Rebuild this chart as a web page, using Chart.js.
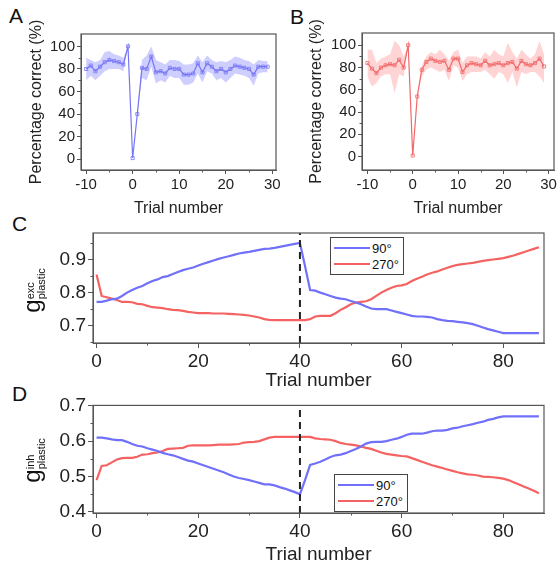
<!DOCTYPE html>
<html>
<head>
<meta charset="utf-8">
<script src="https://cdn.jsdelivr.net/npm/chart.js@4"></script>
<style>
  body { margin: 0; background: #fff; font-family: Arial, "Liberation Sans", sans-serif; }
  #fig { position: relative; width: 560px; height: 572px; overflow: hidden; }
  .panel { position: absolute; }
  .letter { position: absolute; font-size: 21px; color: #111; }
  .glabel { position: absolute; transform: rotate(-90deg); transform-origin: center; white-space: nowrap; color: #111; }
  .glabel .g { font-size: 24px; }
  .glabel .sx { display: inline-block; vertical-align: middle; line-height: 11px; font-size: 11px; text-align: left; }
  .legend { position: absolute; border: 1px solid #444; background: #fff; font-size: 13px; color: #111; padding: 2px 4px 2px 3px; }
  .legend .row { display: flex; align-items: center; height: 16px; }
  .legend .sw { display: inline-block; width: 36px; height: 2px; margin-right: 2px; }
</style>
</head>
<body>
<div id="fig">
  <div class="letter" style="left:9px;top:4px;">A</div>
  <div class="letter" style="left:290px;top:5px;">B</div>
  <div class="letter" style="left:12px;top:212px;">C</div>
  <div class="letter" style="left:12px;top:382px;">D</div>
  <div class="panel" style="left:0;top:0;"><canvas id="chartA" width="285" height="222"></canvas></div>
  <div class="panel" style="left:280px;top:0;"><canvas id="chartB" width="280" height="222"></canvas></div>
  <div class="panel" style="left:0;top:200px;"><canvas id="chartC" width="560" height="192"></canvas></div>
  <div class="panel" style="left:0;top:392px;"><canvas id="chartD" width="560" height="180"></canvas></div>
  <div class="glabel" id="labelC" style="left:-8px;top:276px;width:80px;text-align:center;"><span class="g">g</span><span class="sx">exc<br>plastic</span></div>
  <div class="glabel" id="labelD" style="left:-8px;top:446px;width:80px;text-align:center;"><span class="g">g</span><span class="sx">inh<br>plastic</span></div>
  <div class="legend" id="legendC" style="left:330px;top:237px;"></div>
  <div class="legend" id="legendD" style="left:334px;top:474px;"></div>
</div>
<script>
// panels A/B: trials around the switch
const trialsAB = [-10,-9,-8,-7,-6,-5,-4,-3,-2,-1,0,1,2,3,4,5,6,7,8,9,10,11,12,13,14,15,16,17,18,19,20,21,22,23,24,25,26,27,28,29];
const pctA      = [80,83,78,82,86,88,87,86,84,100,1,40,81,80,91,77,78,76,81,80,80,75,75,76,85,77,85,82,78,80,77,80,83,82,81,80,75,82,82,82];
const pctAUpper = [90,88,86,88,95,96,93,92,90,100,1,40,88,92,100,88,86,84,88,88,87,84,84,85,92,86,92,88,86,87,86,88,91,90,88,87,84,88,87,87];
const pctALower = [70,74,70,74,78,80,80,80,78,100,1,40,72,70,82,67,70,68,74,72,72,66,66,68,76,68,78,76,70,72,68,72,76,75,74,72,65,76,77,77];
const pctB      = [84,79,75,80,82,83,82,87,80,100,1,54,78,85,88,86,85,86,78,88,88,76,82,84,83,82,86,82,83,84,82,84,85,79,86,83,82,84,88,81];
const pctBUpper = [96,96,84,88,90,92,104,100,90,100,1,55,82,90,94,92,96,92,86,94,96,84,90,90,90,88,94,90,96,92,90,102,94,88,96,92,88,92,104,92];
const pctBLower = [72,63,66,72,74,74,57,74,72,100,1,53,72,78,80,78,76,78,68,82,80,68,74,76,76,76,78,74,70,76,74,66,76,62,76,74,76,76,72,66];

// panels C/D: plastic conductances over trials
const trialsCD = [0,1,2,3,4,5,6,7,8,9,10,11,12,13,14,15,16,17,18,19,20,21,22,23,24,25,26,27,28,29,30,31,32,33,34,35,36,37,38,39,40,41,42,43,44,45,46,47,48,49,50,51,52,53,54,55,56,57,58,59,60,61,62,63,64,65,66,67,68,69,70,71,72,73,74,75,76,77,78,79,80,81,82,83,84,85,86,87];
const excBlue = [0.772,0.772,0.776,0.780,0.782,0.790,0.800,0.808,0.815,0.820,0.828,0.835,0.840,0.847,0.850,0.856,0.862,0.868,0.872,0.876,
  0.882,0.887,0.892,0.897,0.902,0.906,0.910,0.914,0.918,0.921,0.923,0.926,0.929,0.932,0.933,0.935,0.938,0.941,0.944,0.947,
  0.950,0.880,0.808,0.806,0.800,0.795,0.790,0.785,0.782,0.780,0.775,0.770,0.765,0.758,0.752,0.750,0.750,0.750,0.746,0.742,
  0.738,0.734,0.730,0.728,0.728,0.727,0.725,0.720,0.717,0.715,0.714,0.712,0.710,0.708,0.705,0.700,0.695,0.690,0.686,0.682,
  0.678,0.678,0.678,0.678,0.678,0.678,0.678,0.678];
const excRed = [0.855,0.790,0.786,0.782,0.778,0.772,0.772,0.771,0.766,0.765,0.760,0.756,0.755,0.753,0.750,0.748,0.747,0.745,0.742,0.740,
  0.738,0.738,0.738,0.737,0.737,0.737,0.736,0.735,0.734,0.733,0.731,0.728,0.725,0.720,0.718,0.717,0.717,0.717,0.717,0.717,
  0.717,0.717,0.720,0.728,0.730,0.730,0.730,0.738,0.748,0.756,0.765,0.770,0.772,0.774,0.780,0.790,0.800,0.808,0.815,0.820,
  0.822,0.826,0.835,0.842,0.848,0.855,0.860,0.864,0.870,0.875,0.880,0.884,0.886,0.888,0.890,0.893,0.896,0.898,0.900,0.902,
  0.904,0.908,0.912,0.917,0.922,0.927,0.932,0.937];
const inhBlue = [0.610,0.610,0.608,0.605,0.603,0.603,0.598,0.592,0.587,0.585,0.580,0.576,0.572,0.567,0.563,0.560,0.555,0.550,0.545,0.542,
  0.537,0.532,0.527,0.522,0.517,0.512,0.506,0.500,0.496,0.493,0.490,0.486,0.482,0.478,0.478,0.475,0.470,0.466,0.461,0.456,
  0.450,0.490,0.533,0.537,0.542,0.548,0.555,0.560,0.562,0.566,0.572,0.578,0.585,0.593,0.597,0.598,0.598,0.600,0.604,0.607,
  0.612,0.618,0.621,0.621,0.621,0.624,0.628,0.630,0.630,0.632,0.636,0.638,0.642,0.645,0.648,0.652,0.655,0.660,0.663,0.667,
  0.670,0.670,0.670,0.670,0.670,0.670,0.670,0.670];
const inhRed = [0.490,0.530,0.532,0.540,0.548,0.552,0.553,0.553,0.556,0.562,0.563,0.566,0.568,0.572,0.578,0.579,0.580,0.581,0.587,0.588,
  0.588,0.588,0.588,0.589,0.590,0.590,0.590,0.591,0.592,0.596,0.597,0.598,0.600,0.605,0.610,0.612,0.612,0.612,0.612,0.612,
  0.612,0.612,0.612,0.608,0.606,0.605,0.604,0.600,0.595,0.592,0.590,0.588,0.585,0.581,0.578,0.573,0.568,0.564,0.562,0.560,
  0.558,0.557,0.552,0.547,0.542,0.537,0.532,0.528,0.524,0.520,0.516,0.512,0.509,0.506,0.505,0.503,0.500,0.499,0.498,0.496,
  0.494,0.490,0.484,0.478,0.472,0.466,0.460,0.453];

const seriesNames = ['90°', '270°'];
const switchTrial = 40;

const xTicksAB = [-10, 0, 10, 20, 30];
const xMinorAB = [-5, 5, 15, 25];
const yTicksAB = [0, 20, 40, 60, 80, 100];
const yMinorAB = [10, 30, 50, 70, 90];
const xTicksCD = [0, 20, 40, 60, 80];
const xMinorCD = [10, 30, 50, 70];
const yTicksC = [0.7, 0.8, 0.9];
const yMinorC = [0.65, 0.75, 0.85, 0.95];
const yTicksD = [0.4, 0.5, 0.6, 0.7];
const yMinorD = [0.45, 0.55, 0.65];

const FONT = 'Arial, "Liberation Sans", sans-serif';
const BLUE = 'rgb(112,112,250)';
const RED = 'rgb(245,98,98)';
const AXIS = '#555';

// closed frame around the plot area plus short minor ticks (Origin style)
const framePlugin = {
  id: 'frame',
  afterDraw(chart, args, opts) {
    const a = chart.chartArea, ctx = chart.ctx;
    ctx.save();
    ctx.strokeStyle = AXIS;
    ctx.lineWidth = 1.2;
    ctx.strokeRect(a.left, a.top, a.right - a.left, a.bottom - a.top);
    ctx.lineWidth = 1;
    const xs = chart.scales.x, ys = chart.scales.y;
    ctx.beginPath();
    (opts.xMinor || []).forEach(v => {
      const px = Math.round(xs.getPixelForValue(v)) + 0.5;
      ctx.moveTo(px, a.bottom); ctx.lineTo(px, a.bottom + 2.5);
    });
    (opts.yMinor || []).forEach(v => {
      const py = Math.round(ys.getPixelForValue(v)) + 0.5;
      if (py < a.top || py > a.bottom) return;
      ctx.moveTo(a.left, py); ctx.lineTo(a.left - 2.5, py);
    });
    ctx.stroke();
    ctx.restore();
  }
};

function pts(xs, ys) {
  return xs.map((x, i) => ({x: x, y: ys[i]}));
}

function makeAB(id, mean, upper, lower, line, band, geo) {
  new Chart(document.getElementById(id), {
    type: 'line',
    data: {
      datasets: [
        {data: pts(trialsAB, mean), borderColor: line, borderWidth: 1.2, pointStyle: 'rect',
         pointRadius: 2.2, pointBorderWidth: 0.8, pointBorderColor: line, pointBackgroundColor: 'rgba(255,255,255,0)', fill: false},
        {data: pts(trialsAB, upper), borderWidth: 0, borderColor: 'rgba(0,0,0,0)', pointRadius: 0, fill: '+1', backgroundColor: band},
        {data: pts(trialsAB, lower), borderWidth: 0, borderColor: 'rgba(0,0,0,0)', pointRadius: 0, fill: false}
      ]
    },
    options: {
      responsive: false,
      animation: false,
      layout: {padding: {top: geo.top, right: geo.right, left: 0, bottom: 0}},
      plugins: {legend: {display: false}, tooltip: {enabled: false}, frame: {xMinor: xMinorAB, yMinor: yMinorAB}},
      scales: {
        x: {
          type: 'linear', min: geo.xmin, max: geo.xmax,
          afterBuildTicks: s => { s.ticks = xTicksAB.map(v => ({value: v})); },
          afterFit: s => { s.height = geo.xh; },
          grid: {drawOnChartArea: false, tickLength: 4, color: AXIS},
          border: {color: AXIS},
          ticks: {color: '#222', font: {family: FONT, size: 15}, padding: 2, maxRotation: 0},
          title: {display: true, text: 'Trial number', color: '#222', font: {family: FONT, size: 16}, padding: {bottom: 4}}
        },
        y: {
          min: geo.ymin, max: geo.ymax,
          afterBuildTicks: s => { s.ticks = yTicksAB.map(v => ({value: v})); },
          afterFit: s => { s.width = geo.yw; },
          grid: {drawOnChartArea: false, tickLength: 4, color: AXIS},
          border: {color: AXIS},
          ticks: {color: '#222', font: {family: FONT, size: 15}, padding: 2},
          title: {display: true, text: 'Percentage correct (%)', color: '#222', font: {family: FONT, size: 16}, padding: {top: 27}}
        }
      }
    },
    plugins: [framePlugin]
  });
}

function makeCD(id, blue, red, yTicks, yMinor, geo) {
  new Chart(document.getElementById(id), {
    type: 'line',
    data: {
      datasets: [
        {label: 'switch', data: [{x: switchTrial, y: geo.ymin}, {x: switchTrial, y: geo.ymax}],
         borderColor: '#222', borderWidth: 2, borderDash: [7, 5], pointRadius: 0, fill: false},
        {label: seriesNames[0], data: pts(trialsCD, blue), borderColor: BLUE, borderWidth: 2.2, pointRadius: 0, fill: false},
        {label: seriesNames[1], data: pts(trialsCD, red), borderColor: RED, borderWidth: 2.2, pointRadius: 0, fill: false}
      ]
    },
    options: {
      responsive: false,
      animation: false,
      layout: {padding: {top: geo.top, right: geo.right, left: 0, bottom: geo.bottom}},
      plugins: {legend: {display: false}, tooltip: {enabled: false}, frame: {xMinor: xMinorCD, yMinor: yMinor}},
      scales: {
        x: {
          type: 'linear', min: geo.xmin, max: geo.xmax,
          afterBuildTicks: s => { s.ticks = xTicksCD.map(v => ({value: v})); },
          afterFit: s => { s.height = geo.xh; },
          grid: {drawOnChartArea: false, tickLength: 5, color: AXIS},
          border: {color: AXIS},
          ticks: {color: '#222', font: {family: FONT, size: 19}, padding: 2, maxRotation: 0},
          title: {display: true, text: 'Trial number', color: '#222', font: {family: FONT, size: 19}, padding: {bottom: 0}}
        },
        y: {
          min: geo.ymin, max: geo.ymax,
          afterBuildTicks: s => { s.ticks = yTicks.map(v => ({value: v})); },
          afterFit: s => { s.width = geo.yw; },
          grid: {drawOnChartArea: false, tickLength: 5, color: AXIS},
          border: {color: AXIS},
          ticks: {color: '#222', font: {family: FONT, size: 19}, padding: 2, callback: v => v.toFixed(1)}
        }
      }
    },
    plugins: [framePlugin]
  });
}

function buildLegend(id) {
  const el = document.getElementById(id);
  [BLUE, RED].forEach((c, i) => {
    const row = document.createElement('div');
    row.className = 'row';
    row.innerHTML = '<span class="sw" style="background:' + c + '"></span><span>' + seriesNames[i] + '</span>';
    el.appendChild(row);
  });
}

makeAB('chartA', pctA, pctAUpper, pctALower, 'rgb(118,118,245)', 'rgba(125,125,255,0.38)',
  {top: 34, right: 9, yw: 81, xh: 52, xmin: -11.1, xmax: 30.8, ymin: -9.6, ymax: 111});
makeAB('chartB', pctB, pctBUpper, pctBLower, 'rgb(240,105,105)', 'rgba(255,120,120,0.32)',
  {top: 33, right: 6, yw: 82, xh: 52, xmin: -11.2, xmax: 31.2, ymin: -12, ymax: 111});
makeCD('chartC', excBlue, excRed, yTicksC, yMinorC,
  {top: 33, right: 16, bottom: 0, yw: 93, xh: 49, xmin: -0.7, xmax: 88, ymin: 0.648, ymax: 0.98});
makeCD('chartD', inhBlue, inhRed, yTicksD, yMinorD,
  {top: 12, right: 16, bottom: 6, yw: 93, xh: 53, xmin: -0.7, xmax: 88, ymin: 0.397, ymax: 0.701});
buildLegend('legendC');
buildLegend('legendD');
</script>
</body>
</html>
